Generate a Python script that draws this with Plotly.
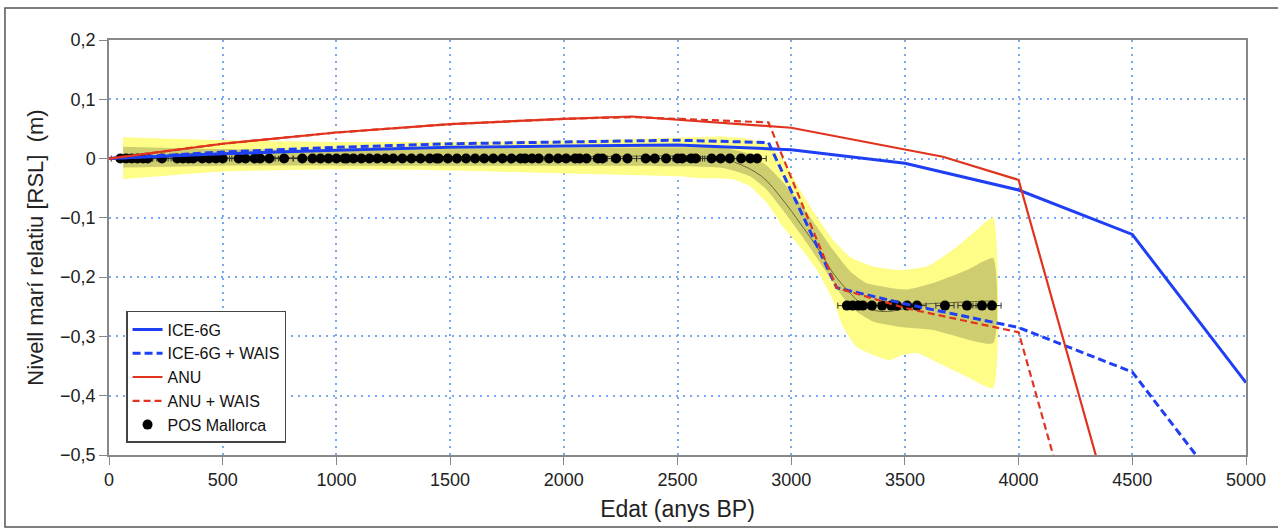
import plotly.graph_objects as go

# ---------------- data ----------------
ice_x = [0, 500, 1000, 1500, 2000, 2500, 3000, 3500, 4000, 4500, 5000]
ice_y = [0, 0.008, 0.014, 0.019, 0.021, 0.023, 0.015, -0.008, -0.053, -0.128, -0.378]

icew_x = [0, 500, 1000, 1500, 2000, 2500, 2900, 3200, 3500, 4000, 4500, 5000]
icew_y = [0, 0.011, 0.019, 0.025, 0.028, 0.031, 0.027, -0.218, -0.245, -0.285, -0.36, -0.61]

anu_x = [0, 500, 1000, 1500, 2000, 2300, 3000, 3667, 4000, 4500]
anu_y = [0, 0.025, 0.044, 0.058, 0.067, 0.071, 0.052, 0.003, -0.036, -0.72]

anuw_x = [0, 500, 1000, 1500, 2000, 2300, 2900, 3200, 3500, 4000, 4500]
anuw_y = [0, 0.025, 0.044, 0.058, 0.067, 0.070, 0.061, -0.218, -0.252, -0.293, -0.975]

# 95% band (yellow)
out_up_x = [62, 500, 1000, 1500, 2000, 2500, 2700, 2800, 2894, 2964, 3039, 3113, 3184, 3259, 3360, 3478, 3597, 3711, 3817, 3888]
out_up_y = [0.036, 0.031, 0.028, 0.028, 0.030, 0.035, 0.037, 0.034, 0.024, -0.002, -0.053, -0.098, -0.137, -0.166, -0.182, -0.188, -0.182, -0.154, -0.12, -0.099]
out_lo_x = [62, 500, 1000, 1500, 2000, 2500, 2600, 2744, 2819, 2893, 2964, 3039, 3113, 3184, 3228, 3289, 3377, 3434, 3492, 3553, 3624, 3773, 3888]
out_lo_y = [-0.035, -0.022, -0.018, -0.02, -0.025, -0.03, -0.033, -0.035, -0.047, -0.075, -0.115, -0.149, -0.188, -0.239, -0.284, -0.318, -0.334, -0.34, -0.331, -0.328, -0.34, -0.368, -0.387]

# 68% band (olive)
in_up_x = [62, 500, 1000, 1500, 2000, 2500, 2700, 2800, 2893, 2964, 3039, 3113, 3184, 3259, 3330, 3404, 3509, 3624, 3773, 3888]
in_up_y = [0.02, 0.016, 0.015, 0.016, 0.018, 0.019, 0.018, 0.01, -0.012, -0.04, -0.075, -0.115, -0.154, -0.19, -0.21, -0.216, -0.221, -0.21, -0.188, -0.168]
in_lo_x = [62, 500, 1000, 1500, 2000, 2500, 2700, 2819, 2893, 3039, 3157, 3259, 3360, 3478, 3624, 3888]
in_lo_y = [-0.015, -0.012, -0.012, -0.012, -0.012, -0.013, -0.016, -0.03, -0.053, -0.126, -0.193, -0.25, -0.275, -0.284, -0.289, -0.311]

# central fit
mid_x = [62, 1000, 2000, 2650, 2750, 2870, 2964, 3039, 3113, 3184, 3259, 3333, 3404, 3478, 3553, 3700, 3888]
mid_y = [0.0, 0.002, 0.003, 0.002, -0.006, -0.03, -0.07, -0.109, -0.149, -0.193, -0.227, -0.252, -0.258, -0.255, -0.247, -0.243, -0.24]

# POS Mallorca observations
pos_x = [50, 75, 100, 125, 150, 170, 233, 300, 325, 350, 370, 410, 440, 470, 500,
         570, 600, 640, 665, 705, 770, 850, 895, 930, 965, 1000, 1035, 1045,
         1075, 1110, 1145, 1180, 1215, 1250, 1290, 1330, 1370, 1410, 1440,
         1450, 1490, 1530, 1570, 1610, 1650, 1690, 1730, 1770, 1810, 1830, 1860, 1890,
         1935, 1975, 2010, 2050, 2070, 2100, 2150, 2170, 2230, 2280, 2360, 2400,
         2450, 2500, 2520, 2560, 2580, 2650, 2690, 2730, 2780, 2820, 2850,
         3245, 3270, 3295, 3315, 3355, 3400, 3440, 3465, 3510, 3553, 3676, 3773, 3839, 3883]
pos_y = [0.0] * 75 + [-0.248] * 15
pos_err = [40] * 90

yticks = [0.2, 0.1, 0, -0.1, -0.2, -0.3, -0.4, -0.5]
yticktext = ["0,2", "0,1", "0", "\u22120,1", "\u22120,2", "\u22120,3", "\u22120,4", "\u22120,5"]
xticks = [0, 500, 1000, 1500, 2000, 2500, 3000, 3500, 4000, 4500, 5000]

BLUE = "#1f3ff5"
RED = "#e0341f"

fig = go.Figure()

# bands
fig.add_trace(go.Scatter(x=out_up_x + out_lo_x[::-1], y=out_up_y + out_lo_y[::-1],
                         fill="toself", fillcolor="rgb(253,253,135)",
                         line=dict(width=0, shape="spline", smoothing=0.5),
                         mode="lines", showlegend=False, hoverinfo="skip"))
fig.add_trace(go.Scatter(x=in_up_x + in_lo_x[::-1], y=in_up_y + in_lo_y[::-1],
                         fill="toself", fillcolor="rgb(206,206,112)",
                         line=dict(width=0, shape="spline", smoothing=0.5),
                         mode="lines", showlegend=False, hoverinfo="skip"))
fig.add_trace(go.Scatter(x=mid_x, y=mid_y, mode="lines",
                         line=dict(color="#66663a", width=1, shape="spline"),
                         showlegend=False, hoverinfo="skip"))

# observations
fig.add_trace(go.Scatter(x=pos_x, y=pos_y, mode="markers", name="POS Mallorca",
                         marker=dict(color="black", size=10),
                         error_x=dict(type="data", array=pos_err, color="#333", thickness=1, width=3),
                         legendrank=5))

# models
fig.add_trace(go.Scatter(x=ice_x, y=ice_y, mode="lines", name="ICE-6G",
                         line=dict(color=BLUE, width=3), legendrank=1))
fig.add_trace(go.Scatter(x=icew_x, y=icew_y, mode="lines", name="ICE-6G + WAIS",
                         line=dict(color=BLUE, width=3, dash="8px,4px"), legendrank=2))
fig.add_trace(go.Scatter(x=anu_x, y=anu_y, mode="lines", name="ANU",
                         line=dict(color=RED, width=2.2), legendrank=3))
fig.add_trace(go.Scatter(x=anuw_x, y=anuw_y, mode="lines", name="ANU + WAIS",
                         line=dict(color=RED, width=2.2, dash="7px,4px"), legendrank=4))

axis_common = dict(showline=True, linecolor="#888", linewidth=1.5, mirror=True,
                   ticks="outside", ticklen=8, tickcolor="#888",
                   showgrid=True, gridcolor="rgb(120,170,240)", griddash="2px,5px", gridwidth=1.6,
                   zeroline=False, tickfont=dict(size=18, color="#222"))

fig.update_layout(
    width=1278, height=530,
    margin=dict(l=109, r=32, t=40, b=75),
    paper_bgcolor="white", plot_bgcolor="white",
    font=dict(family="Liberation Sans, Arial, sans-serif", color="#222"),
    xaxis=dict(range=[0, 5000], tickvals=xticks,
               title=dict(text="Edat (anys BP)", font=dict(size=23), standoff=12),
               **axis_common),
    yaxis=dict(range=[-0.5, 0.2], tickvals=yticks, ticktext=yticktext,
               title=dict(text="Nivell marí relatiu [RSL]\u00a0\u00a0(m)", font=dict(size=22), standoff=10),
               **axis_common),
    legend=dict(x=0.015, y=0.347, xanchor="left", yanchor="top",
                bgcolor="white", bordercolor="#444", borderwidth=1.5,
                font=dict(size=16, color="#111"), tracegroupgap=0, itemwidth=30),
    shapes=[dict(type="rect", xref="paper", yref="paper",
                 x0=-0.0915, x1=1.05, y0=-0.1735, y1=1.077,
                 line=dict(color="#555", width=1.5), layer="below")],
)

fig.write_html("out.html")
